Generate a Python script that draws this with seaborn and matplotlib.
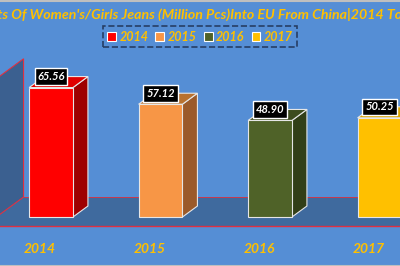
import numpy as np
import pandas as pd
import matplotlib
matplotlib.use("Agg")
import matplotlib.pyplot as plt
import seaborn as sns
from matplotlib.patches import Polygon, Patch
from matplotlib.lines import Line2D
from matplotlib.transforms import offset_copy

# ---- data ----
years = ["2014", "2015", "2016", "2017"]
values = [65.56, 57.12, 48.90, 50.25]
front_colors = ["#FF0000", "#F79646", "#4F6228", "#FFC000"]
side_colors = ["#9E0000", "#9B5A2A", "#323F18", "#C09000"]
top_colors = ["#E00000", "#B8712F", "#3D4C1E", "#D9A300"]
title = "Imports Of Women's/Girls Jeans (Million Pcs)Into EU From China|2014 To 2017"
axis_max = 70

plt.rcParams["font.family"] = ["Lato", "DejaVu Sans"]

BG = "#558ED5"
GOLD = "#FFC000"
W, H = 400, 266
fig = plt.figure(figsize=(4, 2.66), dpi=100)
fig.patch.set_facecolor(BG)
ax = fig.add_axes([0, 0, 1, 1])
ax.set_facecolor(BG)

df = pd.DataFrame({"year": years, "value": values})
sns.barplot(data=df, x="year", y="value", hue="year", palette=front_colors,
            legend=False, width=0.4, saturation=1, edgecolor="#E6E6E6",
            linewidth=0.8, ax=ax, zorder=4)

XLIM = (-0.466, 3.187)
YLIM = (-24.8, 109.9)
ax.set_xlim(*XLIM)
ax.set_ylim(*YLIM)
ax.axis("off")

ppx = W / (XLIM[1] - XLIM[0])
ppy = H / (YLIM[1] - YLIM[0])
DXd = 15 / ppx   # bar depth in data units (x)
DYd = 11 / ppy   # bar depth in data units (y)
gap = 9 / 11     # floor margin in front/behind the bars, in bar depths

# floor and back wall
fx, fy = -gap * DXd, -gap * DYd
bx, by = (1 + gap) * DXd, (1 + gap) * DYd
wx = -0.5
RED = "#E03040"
floor = Polygon([(wx + fx, fy), (XLIM[1] + 1, fy), (XLIM[1] + 1, by), (wx + bx, by)],
                closed=True, facecolor="#3F6A9E", edgecolor="none", zorder=1)
ax.add_patch(floor)
wall = Polygon([(wx + bx, by), (wx + bx, axis_max + by), (wx + fx, axis_max + fy), (wx + fx, fy)],
               closed=True, facecolor="#3B6090", edgecolor=RED, linewidth=0.8, zorder=1.5)
ax.add_patch(wall)
ax.plot([wx + bx, XLIM[1] + 1], [by, by], color=RED, lw=0.6, zorder=1.6)
ax.plot([XLIM[0] - 1, XLIM[1] + 1], [fy, fy], color=RED, lw=1.0, zorder=1.6)

# 3D sides and tops
for i, cont in enumerate(ax.containers):
    for p in cont.patches:
        x0, w, h = p.get_x(), p.get_width(), p.get_height()
        side = Polygon([(x0 + w, 0), (x0 + w + DXd, DYd), (x0 + w + DXd, h + DYd), (x0 + w, h)],
                       closed=True, facecolor=side_colors[i], edgecolor="#E6E6E6",
                       linewidth=0.8, zorder=3.5)
        top = Polygon([(x0, h), (x0 + w, h), (x0 + w + DXd, h + DYd), (x0 + DXd, h + DYd)],
                      closed=True, facecolor=top_colors[i], edgecolor="#E6E6E6",
                      linewidth=0.8, zorder=3.5)
        ax.add_patch(side)
        ax.add_patch(top)
        # value label
        tr = offset_copy(ax.transData, fig=fig, x=0, y=11, units="dots")
        ax.text(x0 + w / 2, h, f"{values[i]:.2f}", transform=tr, ha="center", va="center",
                color="white", fontsize=8, fontweight="bold", fontstyle="italic", zorder=6,
                bbox=dict(boxstyle="square,pad=0.25", facecolor="black", edgecolor="white", linewidth=1))
        # category label
        tr2 = offset_copy(ax.transData, fig=fig, x=-11, y=-32, units="dots")
        ax.text(x0 + w / 2, 0, years[i], transform=tr2, ha="center", va="center",
                color=GOLD, fontsize=10, fontweight="bold", fontstyle="italic", zorder=6)

# title
fig.text(0.5, 1 - 14 / H, title, ha="center", va="center", color=GOLD,
         fontsize=10.15, fontweight="bold", fontstyle="italic")

# legend
handles = [Patch(facecolor=c, edgecolor="white", linewidth=0.8) for c in front_colors]
leg = fig.legend(handles, years, loc="center", bbox_to_anchor=(0.5, 1 - 36.5 / H),
                 ncol=4, frameon=True, handlelength=0.7, handleheight=0.7,
                 handletextpad=0.3, columnspacing=0.55, borderpad=0.35, fancybox=False,
                 prop=dict(weight="bold", style="italic", size=9))
for t in leg.get_texts():
    t.set_color(GOLD)
fr = leg.get_frame()
fr.set_facecolor("none")
fr.set_edgecolor("#1B2A48")
fr.set_linestyle("--")
fr.set_linewidth(1.2)

# thin grey border strips at top and bottom
fig.add_artist(Line2D([0, 1], [1 - 0.5 / H, 1 - 0.5 / H], transform=fig.transFigure, color="#BFBFBF", lw=1.5))
fig.add_artist(Line2D([0, 1], [0.5 / H, 0.5 / H], transform=fig.transFigure, color="#BFBFBF", lw=1.5))

fig.savefig("out.png", dpi=100, facecolor=BG)
